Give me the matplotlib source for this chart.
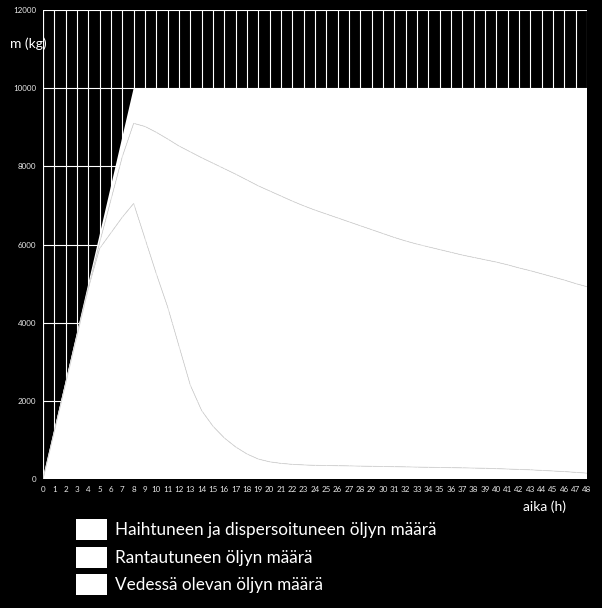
import matplotlib.pyplot as plt
import numpy as np
from matplotlib.patches import Rectangle

# hours 0..48
hours = list(range(49))

# oil amount in water (bottom layer), kg
water = [0, 1230, 2460, 3690, 4880, 5900, 6300, 6700, 7050, 6150,
         5250, 4400, 3400, 2400, 1750, 1350, 1050, 820, 640, 510,
         440, 400, 375, 360, 350, 345, 340, 335, 330, 325,
         320, 315, 310, 305, 300, 295, 290, 285, 280, 275,
         265, 255, 245, 235, 220, 205, 190, 170, 150]

# water + beached (upper grey line), kg
water_and_beached = [0, 1220, 2440, 3660, 4880, 6050, 7150, 8250, 9100, 9020,
                     8870, 8700, 8520, 8370, 8220, 8080, 7940, 7800, 7650, 7500,
                     7370, 7240, 7110, 6990, 6880, 6780, 6680, 6580, 6480, 6380,
                     6280, 6180, 6090, 6010, 5940, 5870, 5800, 5730, 5670, 5610,
                     5550, 5480, 5400, 5330, 5250, 5170, 5090, 5000, 4920]

# total released amount, kg
total = [0, 1250, 2500, 3750, 5000, 6250, 7500, 8750, 10000] + [10000] * 40

beached = [wb - w for wb, w in zip(water_and_beached, water)]
evaporated = [t - wb for t, wb in zip(total, water_and_beached)]

legend_labels = ["Haihtuneen ja dispersoituneen öljyn määrä",
                 "Rantautuneen öljyn määrä",
                 "Vedessä olevan öljyn määrä"]

plt.rcParams['font.family'] = ['Lato', 'DejaVu Sans']

fig = plt.figure(figsize=(6.02, 6.08), dpi=100, facecolor='black')
ax = fig.add_axes([43 / 602, 1 - 479 / 608, 544 / 602, 469 / 608])
ax.set_facecolor('black')

ax.stackplot(hours, water, beached, evaporated,
             colors=['white', 'white', 'white'], linewidth=0, zorder=2)
ax.plot(hours, water, color='#dadada', lw=0.6, zorder=3)
ax.plot(hours, water_and_beached, color='#dadada', lw=0.6, zorder=3)

ax.set_xlim(0, 48)
ax.set_ylim(0, 12000)
ax.set_xticks(hours)
ax.set_yticks(range(0, 12001, 2000))
ax.grid(True, color='white', lw=0.8, zorder=1)
ax.set_axisbelow(True)
ax.tick_params(colors='#e8e8e8', labelsize=5.8, length=0, pad=5)
for s in ax.spines.values():
    s.set_visible(False)
ax.axvline(0, color='white', lw=0.8, zorder=1)

fig.text(10 / 602, 1 - 44 / 608, "m (kg)", color='white', fontsize=10,
         va='center', ha='left')
fig.text(566 / 602, 1 - 507 / 608, "aika (h)", color='white', fontsize=10,
         va='center', ha='right')

# legend: white squares with labels
for i, lab in enumerate(legend_labels):
    top = 519 + i * 27.5
    fig.patches.append(Rectangle((76 / 602, 1 - (top + 21) / 608), 31 / 602, 21 / 608,
                                 transform=fig.transFigure, facecolor='white',
                                 edgecolor='none'))
    fig.text(115 / 602, 1 - (top + 11) / 608, lab, color='white', fontsize=12.3,
             va='center', ha='left')

fig.savefig("out.png", dpi=100, facecolor='black')
